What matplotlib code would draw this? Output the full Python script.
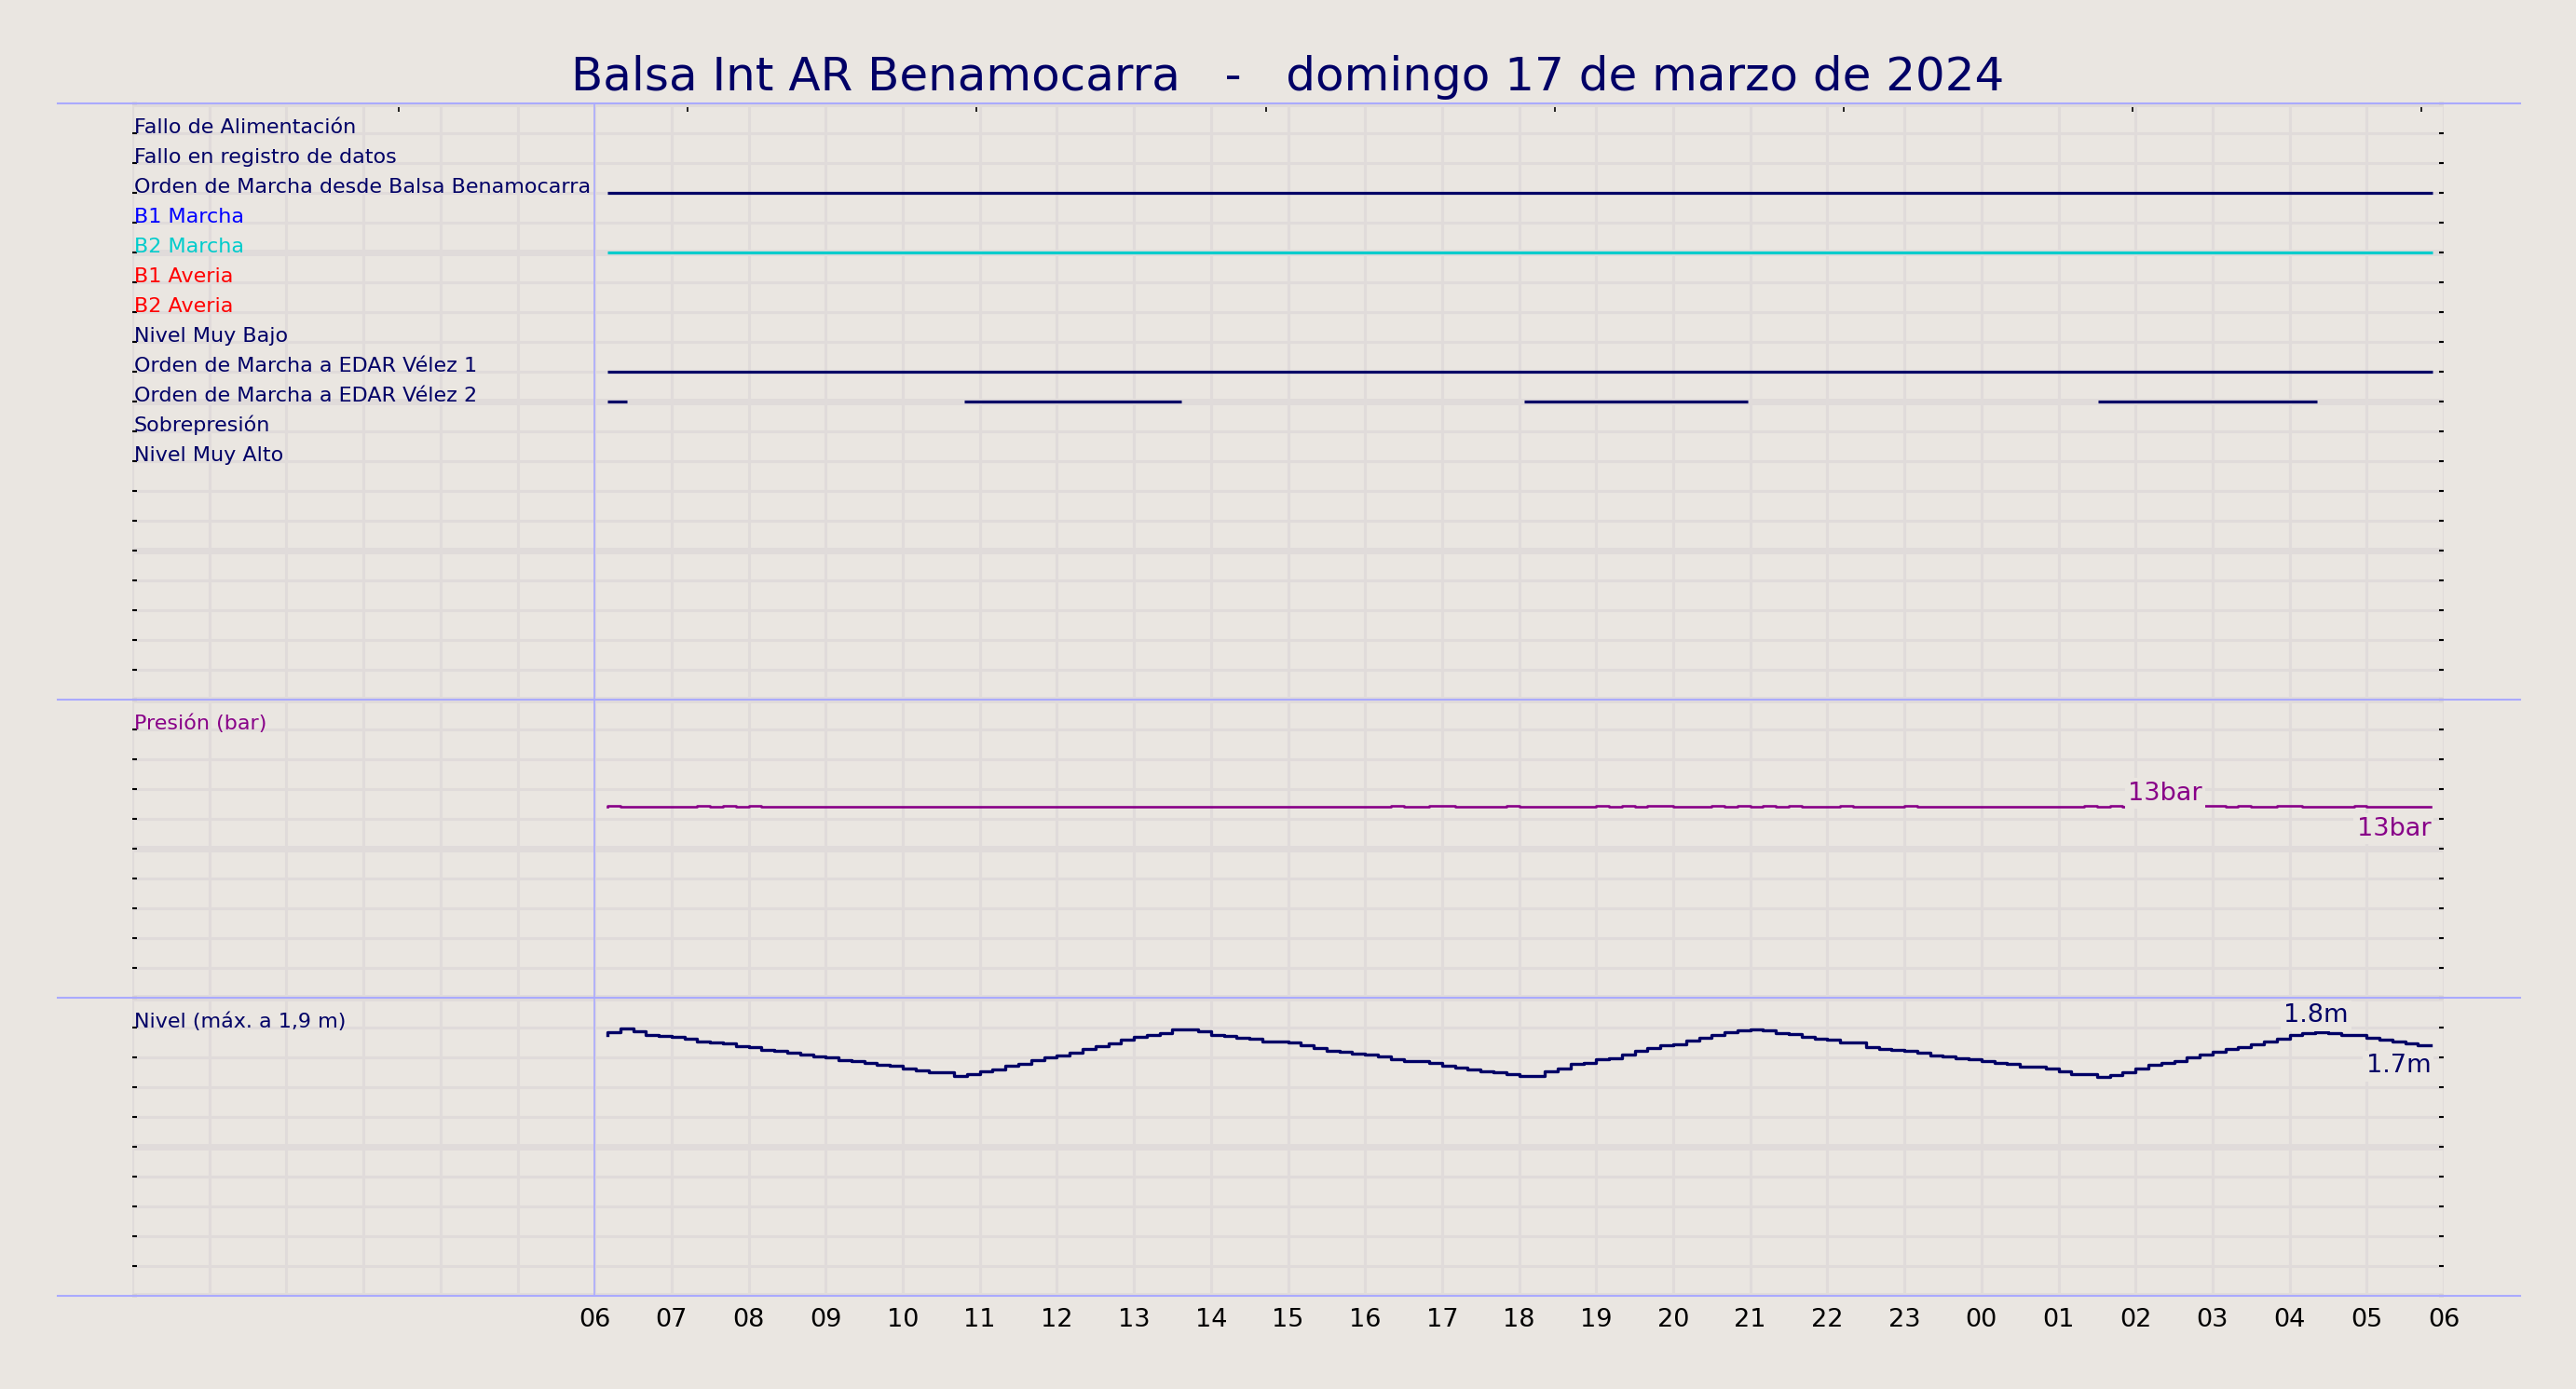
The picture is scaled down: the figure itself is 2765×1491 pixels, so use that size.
import numpy as np
import pandas as pd
import matplotlib
matplotlib.use("Agg")
import matplotlib.pyplot as plt
from matplotlib.lines import Line2D
import matplotlib.transforms as mtransforms

# ---------------- data ----------------
TITLE = "Balsa Int AR Benamocarra   -   domingo 17 de marzo de 2024"

row_labels = [
    "Fallo de Alimentación",
    "Fallo en registro de datos",
    "Orden de Marcha desde Balsa Benamocarra",
    "B1 Marcha",
    "B2 Marcha",
    "B1 Averia",
    "B2 Averia",
    "Nivel Muy Bajo",
    "Orden de Marcha a EDAR Vélez 1",
    "Orden de Marcha a EDAR Vélez 2",
    "Sobrepresión",
    "Nivel Muy Alto",
]
row_colors = ["#000066", "#000066", "#000066", "#0000FF", "#00CCCC", "#FF0000",
              "#FF0000", "#000066", "#000066", "#000066", "#000066", "#000066"]

# digital signals: intervals (hours since 00:00 of 17/03) where the signal is ON
signal_on = {
    "Orden de Marcha desde Balsa Benamocarra": [(6.17, 29.85)],
    "B2 Marcha": [(6.17, 29.85)],
    "Orden de Marcha a EDAR Vélez 1": [(6.17, 29.85)],
    "Orden de Marcha a EDAR Vélez 2": [(6.17, 6.42), (10.80, 13.62), (18.07, 20.97), (25.51, 28.36)],
}
signal_color = {
    "Orden de Marcha desde Balsa Benamocarra": "#000066",
    "B2 Marcha": "#00CCCC",
    "Orden de Marcha a EDAR Vélez 1": "#000066",
    "Orden de Marcha a EDAR Vélez 2": "#000066",
}

# 10-minute samples from 17/03 06:10 to 18/03 05:50
times = pd.date_range("2024-03-17 06:10", "2024-03-18 05:50", freq="10min")

level_m = [
    1.748,
    1.771, 1.791, 1.775, 1.752, 1.746, 1.735, 1.723, 1.708, 1.698, 1.692,
    1.675, 1.667, 1.652, 1.646, 1.629, 1.617, 1.604, 1.598, 1.581, 1.573,
    1.561, 1.550, 1.544, 1.525, 1.515, 1.502, 1.500, 1.475, 1.488, 1.504,
    1.521, 1.542, 1.558, 1.579, 1.598, 1.613, 1.633, 1.658, 1.677, 1.692,
    1.717, 1.735, 1.748, 1.764, 1.787, 1.787, 1.773, 1.752, 1.746,
    1.731, 1.723, 1.704, 1.704, 1.698, 1.679, 1.660, 1.646, 1.640, 1.627,
    1.617, 1.604, 1.590, 1.577, 1.573, 1.561, 1.546, 1.533, 1.521, 1.504,
    1.500, 1.486, 1.473, 1.477, 1.504, 1.527, 1.554, 1.561, 1.590, 1.596,
    1.621, 1.642, 1.660, 1.679, 1.690, 1.715, 1.733, 1.748, 1.767, 1.781,
    1.785, 1.781, 1.762, 1.754, 1.735, 1.723, 1.719, 1.698, 1.700,
    1.667, 1.656, 1.648, 1.644, 1.630, 1.615, 1.607, 1.595, 1.587, 1.574,
    1.562, 1.554, 1.535, 1.535, 1.523, 1.507, 1.486, 1.486, 1.468, 1.480,
    1.501, 1.527, 1.548, 1.564, 1.578, 1.599, 1.620, 1.636, 1.654, 1.669,
    1.689, 1.706, 1.724, 1.747, 1.765, 1.769, 1.765, 1.751, 1.749, 1.730,
    1.718, 1.708, 1.693, 1.683,
]

pressure_bar = [
    12.8, 12.9, 12.8, 12.8, 12.8, 12.8, 12.8, 12.8, 12.9, 12.8,
    12.9, 12.8, 12.9, 12.8, 12.8, 12.8, 12.8, 12.8, 12.8, 12.8,
    12.8, 12.8, 12.8, 12.8, 12.8, 12.8, 12.8, 12.8, 12.8, 12.8,
    12.8, 12.8, 12.8, 12.8, 12.8, 12.8, 12.8, 12.8, 12.8, 12.8,
    12.8, 12.8, 12.8, 12.8, 12.8, 12.8, 12.8, 12.8, 12.8, 12.8,
    12.8, 12.8, 12.8, 12.8, 12.8, 12.8, 12.8, 12.8, 12.8, 12.8,
    12.8, 12.8, 12.9, 12.8, 12.8, 12.9, 12.9, 12.8, 12.8, 12.8,
    12.8, 12.9, 12.8, 12.8, 12.8, 12.8, 12.8, 12.8, 12.9, 12.8,
    12.9, 12.8, 12.9, 12.9, 12.8, 12.8, 12.8, 12.9, 12.8, 12.9,
    12.8, 12.9, 12.8, 12.9, 12.8, 12.8, 12.8, 12.9, 12.8, 12.8,
    12.8, 12.8, 12.9, 12.8, 12.8, 12.8, 12.8, 12.8, 12.8, 12.8,
    12.8, 12.8, 12.8, 12.8, 12.8, 12.8, 12.9, 12.8, 12.9, 12.8,
    12.8, 12.8, 12.8, 12.8, 12.8, 12.9, 12.9, 12.8, 12.9, 12.8,
    12.8, 12.9, 12.9, 12.8, 12.8, 12.8, 12.8, 12.9, 12.8, 12.8,
    12.8, 12.8, 12.8,
]

hour_labels = ["", "", "", "", "", "",
               "06", "07", "08", "09", "10", "11", "12", "13", "14", "15", "16",
               "17", "18", "19", "20", "21", "22", "23", "00", "01", "02", "03",
               "04", "05", "06"]

level_max_label_hour = 28.34
pressure_max_label_hour = 26.38

# ---------------- styling ----------------
BG = "#EAE6E1"
GRID = "#E0DBDA"
SEP = "#AAAAFF"
NAVY = "#000066"
PURPLE = "#880088"

W_PX, H_PX = 2765, 1491
fig = plt.figure(figsize=(W_PX / 100, H_PX / 100), dpi=100)
fig.patch.set_facecolor(BG)

left, right, top, bottom = 142, 2623, 111, 1391
ax = fig.add_axes([left / W_PX, 1 - bottom / H_PX, (right - left) / W_PX, (bottom - top) / H_PX])
ax.set_facecolor(BG)
ax.set_xlim(0, 30)
ax.set_ylim(0, 40)
for s in ax.spines.values():
    s.set_visible(False)

# grid
ax.set_xticks(np.arange(0, 31))
ax.set_xticklabels(hour_labels)
ax.set_yticks(np.arange(0, 41, 5))
ax.set_yticks(np.arange(0, 41), minor=True)
ax.grid(axis="x", which="major", color=GRID, lw=2.2, zorder=0)
ax.grid(axis="y", which="minor", color=GRID, lw=2.2, zorder=0)
ax.grid(axis="y", which="major", color=GRID, lw=5.0, zorder=0)
ax.set_axisbelow(True)
ax.tick_params(axis="x", which="both", length=0, pad=9, labelsize=19.5, labelcolor="black")
ax.tick_params(axis="y", which="both", direction="in", left=True, right=True,
               length=3.8, width=1.5, color="black", labelleft=False, labelright=False)

# top ticks
sec = ax.secondary_xaxis("top")
sec.set_xticks(3.46 + 3.75 * np.arange(8))
sec.tick_params(direction="in", length=6.5, width=1.2, color="black", labeltop=False)
for s in sec.spines.values():
    s.set_visible(False)

# start-of-data marker line
ax.axvline(6.0, color=SEP, lw=1.2, zorder=1.5)

LABEL_FS = 16

# row labels (digital signals)
n_rows = 40
for i, (lab, col) in enumerate(zip(row_labels, row_colors)):
    y = n_rows - (i + 1)
    ax.text(0.02, y, lab, color=col, fontsize=LABEL_FS, ha="left", va="baseline", zorder=5)
    if lab in signal_on:
        for (a, b) in signal_on[lab]:
            ax.plot([a, b], [y, y], color=signal_color[lab], lw=2.3,
                    solid_capstyle="butt", zorder=3)

# analog panels
hours = (times - pd.Timestamp("2024-03-17 00:00")) / pd.Timedelta(hours=1)
hours = np.asarray(hours, dtype=float)
press = np.array(pressure_bar)
lev = np.array(level_m)

ax.text(0.02, 19, "Presión (bar)", color=PURPLE, fontsize=LABEL_FS, ha="left", va="baseline", zorder=5)
ax.text(0.02, 9, "Nivel (máx. a 1,9 m)", color=NAVY, fontsize=LABEL_FS, ha="left", va="baseline", zorder=5)

p_y = 10 + press / 2.0     # 0..20 bar over rows 10..20
l_y = lev * 5.0            # 0..2 m over rows 0..10
ax.plot(hours, p_y, drawstyle="steps-pre", color=PURPLE, lw=1.9, zorder=3)
ax.plot(hours, l_y, drawstyle="steps-pre", color=NAVY, lw=2.4, zorder=3)

bb = dict(boxstyle="square,pad=0.12", fc=BG, ec="none")
ax.annotate(f"{press.max():.0f}bar", xy=(pressure_max_label_hour, 10 + press.max() / 2),
            xytext=(0, 4.3), textcoords="offset points", ha="center", va="baseline",
            fontsize=19.5, color=PURPLE, bbox=bb, zorder=6)
ax.annotate(f"{press[-1]:.0f}bar", xy=(hours[-1], 10 + press[-1] / 2),
            xytext=(0, -7.5), textcoords="offset points", ha="right", va="top",
            fontsize=19.5, color=PURPLE, bbox=bb, zorder=6)
ax.annotate(f"{lev.max():.1f}m", xy=(level_max_label_hour, 5 * lev.max()),
            xytext=(0, 5), textcoords="offset points", ha="center", va="baseline",
            fontsize=19.5, color=NAVY, bbox=bb, zorder=6)
ax.annotate(f"{lev[-1]:.1f}m", xy=(hours[-1], 5 * lev[-1]),
            xytext=(0, -7), textcoords="offset points", ha="right", va="top",
            fontsize=19.5, color=NAVY, bbox=bb, zorder=6)

# separator lines across the figure
trans = mtransforms.blended_transform_factory(fig.transFigure, ax.transData)
for yv in (40, 20, 10, 0):
    fig.add_artist(Line2D([62 / W_PX, 2705 / W_PX], [yv, yv], transform=trans,
                          color=SEP, lw=1.5, clip_on=False, zorder=4))

fig.text(0.5, 1 - 97 / H_PX, TITLE, ha="center", va="baseline", fontsize=36, color=NAVY)

fig.savefig("out.png", dpi=100, facecolor=BG)
